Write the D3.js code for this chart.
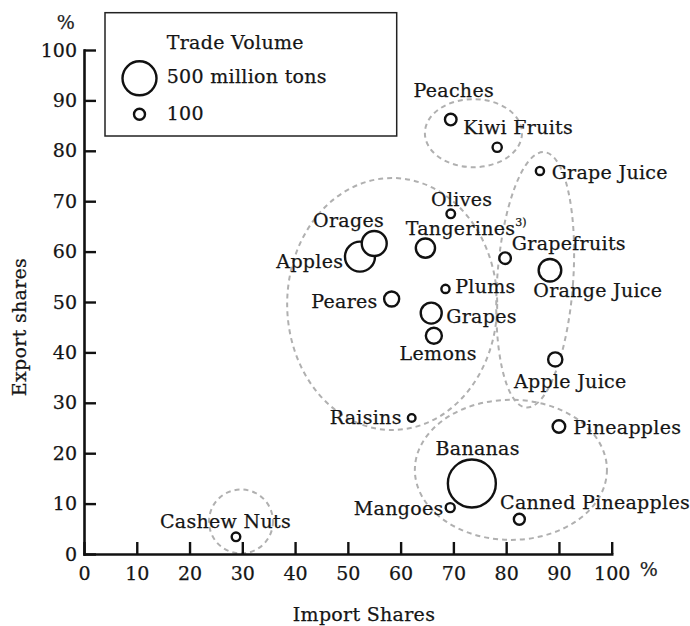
<!DOCTYPE html>
<html><head><meta charset="utf-8">
<script src="https://cdn.jsdelivr.net/npm/d3@7"></script>
<style>
body{margin:0;background:#fff}
svg{display:block}
text{font-family:"DejaVu Serif",serif;fill:#151515;letter-spacing:0.3px;stroke:#151515;stroke-width:0.25px}
</style>
</head><body>
<svg id="chart" width="690" height="626"></svg>
<script>
// ---- data ----
const categories = ["Peaches","Kiwi Fruits","Grape Juice","Olives","Tangerines","Grapefruits","Orange Juice","Plums","Apples","Orages","Peares","Grapes","Lemons","Raisins","Apple Juice","Pineapples","Bananas","Mangoes","Canned Pineapples","Cashew Nuts"];
const importShares = [69.5,78.3,86.4,69.5,64.7,79.8,88.3,68.5,52.3,55.0,58.3,65.8,66.3,62.1,89.3,90.0,73.5,69.4,82.5,28.8];
const exportShares = [86.2,80.7,76.0,67.5,60.7,58.7,56.3,52.6,59.0,61.6,50.6,47.8,43.3,27.0,38.6,25.3,14.0,9.2,6.9,3.4];
const tradeVolume  = [110,69,51,58,243,110,302,51,430,343,170,274,187,41,156,128,743,65,100,58];
const xTicks = [0,10,20,30,40,50,60,70,80,90,100];
const yTicks = [0,10,20,30,40,50,60,70,80,90,100];
const legendValues = [500,100];
const legendLabels = ["500 million tons","100"];
// cluster outlines (data units)
const clusterCx = [73.8,58.4,85.5,80.9,29.75];
const clusterCy = [83.5,49.6,54.4,16.7,6.45];
const clusterRx = [9.2,19.9,7.2,18.2,6.06];
const clusterRy = [6.75,25.0,25.4,13.9,6.35];
const clusterAngle = [0,0,4,0,0];

// ---- label layout (anchor, dx, dy in px) ----
const labelLayout = {
  "Peaches":["middle",3,-23],
  "Kiwi Fruits":["start",-34,-13.3],
  "Grape Juice":["start",11.7,8.3],
  "Olives":["middle",11,-8.3],
  "Tangerines":["start",-19.7,-13.3],
  "Grapefruits":["start",6.7,-8.3],
  "Orange Juice":["start",-16.7,26.7],
  "Plums":["start",9.7,4.3],
  "Orages":["middle",-25.7,-16.6],
  "Apples":["end",-16.7,11.6],
  "Peares":["end",-14,9.3],
  "Grapes":["start",15,10],
  "Lemons":["middle",4.3,24.3],
  "Raisins":["end",-10,5.6],
  "Apple Juice":["middle",15,28.5],
  "Pineapples":["start",14.3,7.3],
  "Bananas":["middle",5.8,-28.3],
  "Mangoes":["end",-6.7,7.3],
  "Canned Pineapples":["start",-19.3,-10],
  "Cashew Nuts":["middle",-10.5,-8.4]
};

const svg = d3.select("#chart");
const x = d3.scaleLinear().domain([0,100]).range([84,611.7]);
const y = d3.scaleLinear().domain([0,100]).range([554,50]);
const r = d3.scaleLinear().domain([100,500]).range([5.5,17]);
const FS = 19;

// cluster ellipses
const clusters = clusterCx.map((cx,i)=>({cx,cy:clusterCy[i],rx:clusterRx[i],ry:clusterRy[i],a:clusterAngle[i]}));
svg.append("g").selectAll("ellipse").data(clusters).join("ellipse")
  .attr("cx",d=>x(d.cx)).attr("cy",d=>y(d.cy))
  .attr("rx",d=>x(d.rx)-x(0)).attr("ry",d=>y(0)-y(d.ry))
  .attr("transform",d=>`rotate(${d.a},${x(d.cx)},${y(d.cy)})`)
  .attr("fill","none").attr("stroke","#b0b0b0").attr("stroke-width",2)
  .attr("stroke-dasharray","5,4");

// axes
const gx = svg.append("g").attr("transform",`translate(0,${y(0)})`)
  .call(d3.axisBottom(x).tickValues(xTicks).tickSize(-12).tickSizeOuter(0).tickPadding(13));
const gy = svg.append("g").attr("transform",`translate(${x(0)},0)`)
  .call(d3.axisLeft(y).tickValues(yTicks).tickSize(-12).tickSizeOuter(0).tickPadding(7));
[gx,gy].forEach(g=>{
  g.attr("font-family","DejaVu Serif").attr("font-size",FS);
  g.select(".domain").attr("stroke","#111").attr("stroke-width",2.6).attr("stroke-linecap","square");
  g.selectAll(".tick line").attr("stroke","#111").attr("stroke-width",2.4);
  g.selectAll(".tick text").attr("fill","#151515").style("letter-spacing","0px");
});

// points
const pts = categories.map((c,i)=>({c,xv:importShares[i],yv:exportShares[i],v:tradeVolume[i]}));
svg.append("g").selectAll("circle").data(pts).join("circle")
  .attr("cx",d=>x(d.xv)).attr("cy",d=>y(d.yv)).attr("r",d=>r(d.v))
  .attr("fill","#fff").attr("stroke","#111").attr("stroke-width",2.4);

// labels
const lab = svg.append("g").selectAll("text").data(pts).join("text")
  .attr("x",d=>x(d.xv)+labelLayout[d.c][1])
  .attr("y",d=>y(d.yv)+labelLayout[d.c][2])
  .attr("text-anchor",d=>labelLayout[d.c][0])
  .attr("font-size",FS)
  .text(d=>d.c);
lab.filter(d=>d.c==="Tangerines").append("tspan")
  .attr("font-size",11).attr("dy",-9).style("letter-spacing","0px").text("3)");

// legend
const lg = svg.append("g");
lg.append("rect").attr("x",105).attr("y",12.7).attr("width",291.7).attr("height",123.3)
  .attr("fill","#fff").attr("stroke","#222").attr("stroke-width",1.5);
lg.append("text").attr("x",166.7).attr("y",49.3).attr("font-size",FS).text("Trade Volume");
const legY = [78.3,114.3];
const legTY = [82.7,120];
legendValues.forEach((v,i)=>{
  lg.append("circle").attr("cx",139.5).attr("cy",legY[i]).attr("r",r(v))
    .attr("fill","#fff").attr("stroke","#111").attr("stroke-width",2.4);
  lg.append("text").attr("x",166.7).attr("y",legTY[i]).attr("font-size",FS).text(legendLabels[i]);
});

// axis titles
svg.append("text").attr("x",364).attr("y",621).attr("text-anchor","middle").attr("font-size",FS).text("Import Shares");
svg.append("text").attr("transform","translate(26,327) rotate(-90)").attr("text-anchor","middle").attr("font-size",FS).text("Export shares");
svg.append("text").attr("x",66).attr("y",29).attr("text-anchor","middle").attr("font-size",FS).attr("fill","#444").style("stroke","#444").text("%");
svg.append("text").attr("x",649).attr("y",576).attr("text-anchor","middle").attr("font-size",FS).attr("fill","#444").style("stroke","#444").text("%");
</script>
</body></html>
